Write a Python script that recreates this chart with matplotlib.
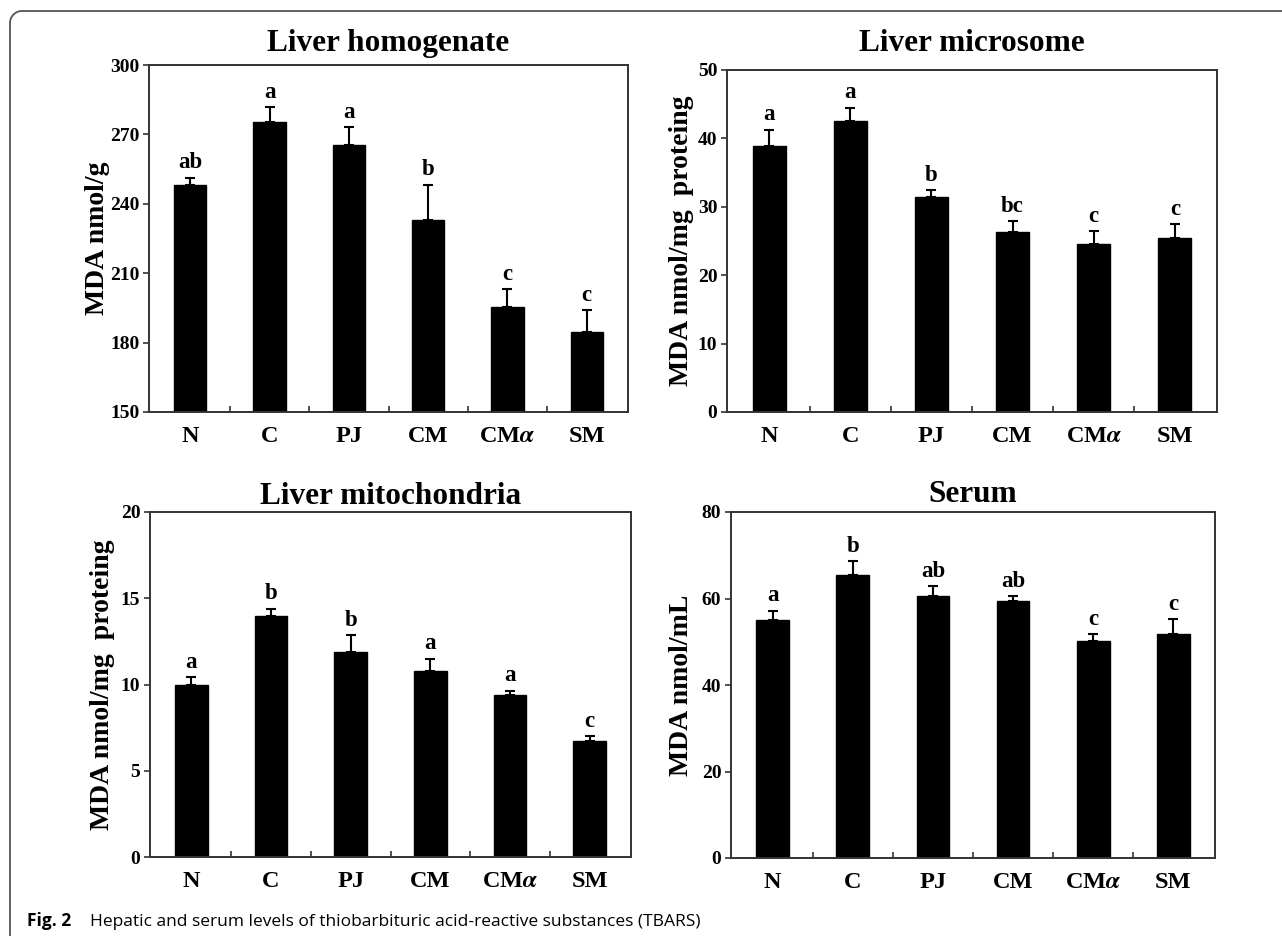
"""TBARS (MDA) levels in liver fractions and serum, 2x2 bar panels with upper SEM bars."""

import matplotlib
matplotlib.use("Agg")
import matplotlib.pyplot as plt
from matplotlib.lines import Line2D
from matplotlib.patches import Arc

plt.rcParams["font.family"] = ["Liberation Serif", "DejaVu Serif"]
plt.rcParams["font.weight"] = "bold"
plt.rcParams["mathtext.fontset"] = "stix"

GROUPS = ["N", "C", "PJ", "CM", r"CM$\mathit{\alpha}$", "SM"]

# Liver homogenate (MDA nmol/g)
homog_mean = [248.3, 275.2, 265.5, 233.2, 195.4, 184.4]
homog_err = [3.0, 6.5, 7.7, 15.1, 7.7, 9.8]
homog_letters = ["ab", "a", "a", "b", "c", "c"]

# Liver microsome (MDA nmol/mg protein)
micro_mean = [38.9, 42.5, 31.5, 26.3, 24.5, 25.4]
micro_err = [2.4, 2.0, 1.0, 1.6, 2.0, 2.1]
micro_letters = ["a", "a", "b", "bc", "c", "c"]

# Liver mitochondria (MDA nmol/mg protein)
mito_mean = [10.0, 14.0, 11.9, 10.8, 9.4, 6.7]
mito_err = [0.45, 0.4, 0.95, 0.7, 0.25, 0.3]
mito_letters = ["a", "b", "b", "a", "a", "c"]

# Serum (MDA nmol/mL)
serum_mean = [55.0, 65.5, 60.5, 59.5, 50.1, 51.8]
serum_err = [2.2, 3.2, 2.3, 1.0, 1.7, 3.5]
serum_letters = ["a", "b", "ab", "ab", "c", "c"]

W, H = 1282, 936
SPINE = "#333333"
CAPTION_FONT = ["Open Sans", "Lato", "DejaVu Sans"]


def px_axes(fig, left, right, top, bottom):
    return fig.add_axes([left / W, 1 - bottom / H, (right - left) / W, (bottom - top) / H])


def bar_panel(ax, means, errs, letters, title, ylabel, ylim, yticks,
              title_pad=8, ylabel_x=-0.08):
    x = list(range(len(means)))
    ax.bar(x, means, width=0.41, color="black", edgecolor="black", zorder=2)
    ax.errorbar(x, means, yerr=[[0] * len(errs), errs], fmt="none",
                ecolor="black", elinewidth=1.5, capsize=3.5, capthick=1.5, zorder=3)
    for xi, m, e, lab in zip(x, means, errs, letters):
        ax.annotate(lab, (xi, m + e), xytext=(0, 3), textcoords="offset points",
                    ha="center", va="bottom", fontsize=16.5, fontweight="bold")

    ax.set_xlim(-0.52, len(means) - 0.48)
    ax.set_ylim(*ylim)
    ax.set_yticks(yticks)
    ax.set_yticklabels([str(t) for t in yticks], fontsize=14, fontweight="bold")

    # group labels without tick marks, separator ticks between bars pointing inward
    ax.set_xticks(x)
    ax.set_xticklabels(GROUPS, fontsize=17.5, fontweight="bold")
    ax.tick_params(axis="x", which="major", length=0, pad=10)
    ax.set_xticks([i + 0.5 for i in x[:-1]], minor=True)
    ax.tick_params(axis="x", which="minor", direction="in", length=4, width=1.2, color=SPINE)
    ax.tick_params(axis="y", direction="out", length=4, width=1.2, color=SPINE, pad=3)

    for sp in ax.spines.values():
        sp.set_color(SPINE)
        sp.set_linewidth(1.4)

    ax.set_title(title, fontsize=22.5, fontweight="bold", pad=title_pad)
    ax.set_ylabel(ylabel, fontsize=20, fontweight="bold")
    ax.yaxis.set_label_coords(ylabel_x, 0.5)


def main():
    fig = plt.figure(figsize=(W / 100, H / 100), dpi=100)

    ax1 = px_axes(fig, 149, 628, 65, 412)
    ax2 = px_axes(fig, 727, 1217, 70, 412)
    ax3 = px_axes(fig, 150, 631, 512, 857)
    ax4 = px_axes(fig, 731, 1215, 512, 858)

    bar_panel(ax1, homog_mean, homog_err, homog_letters, "Liver homogenate",
              "MDA nmol/g", (150, 300), [150, 180, 210, 240, 270, 300],
              title_pad=10, ylabel_x=-0.081)
    bar_panel(ax2, micro_mean, micro_err, micro_letters, "Liver microsome",
              "MDA nmol/mg  proteing", (0, 50), [0, 10, 20, 30, 40, 50],
              title_pad=14, ylabel_x=-0.067)
    bar_panel(ax3, mito_mean, mito_err, mito_letters, "Liver mitochondria",
              "MDA nmol/mg  proteing", (0, 20), [0, 5, 10, 15, 20],
              title_pad=6, ylabel_x=-0.073)
    bar_panel(ax4, serum_mean, serum_err, serum_letters, "Serum",
              "MDA nmol/mL", (0, 80), [0, 20, 40, 60, 80],
              title_pad=7, ylabel_x=-0.076)

    # open frame with rounded top-left corner (journal figure box)
    r = 12
    fx = lambda v: v / W
    fy = lambda v: 1 - v / H
    frame_kw = dict(color="#555555", linewidth=1.3, transform=fig.transFigure)
    fig.add_artist(Line2D([fx(10 + r), 1.0], [fy(11), fy(11)], **frame_kw))
    fig.add_artist(Line2D([fx(10), fx(10)], [fy(11 + r), 0.0], **frame_kw))
    fig.add_artist(Arc((fx(10 + r), fy(11 + r)), 2 * r / W, 2 * r / H, theta1=90, theta2=180,
                       color="#555555", linewidth=1.3, transform=fig.transFigure))

    fig.text(27 / W, fy(926), "Fig. 2", fontsize=12.5, fontweight="bold",
             family=CAPTION_FONT, va="baseline")
    fig.text(90 / W, fy(926),
             "Hepatic and serum levels of thiobarbituric acid-reactive substances (TBARS)",
             fontsize=12.5, fontweight="normal", family=CAPTION_FONT, va="baseline")

    fig.savefig("out.png", dpi=100)
    plt.close(fig)


if __name__ == "__main__":
    main()
